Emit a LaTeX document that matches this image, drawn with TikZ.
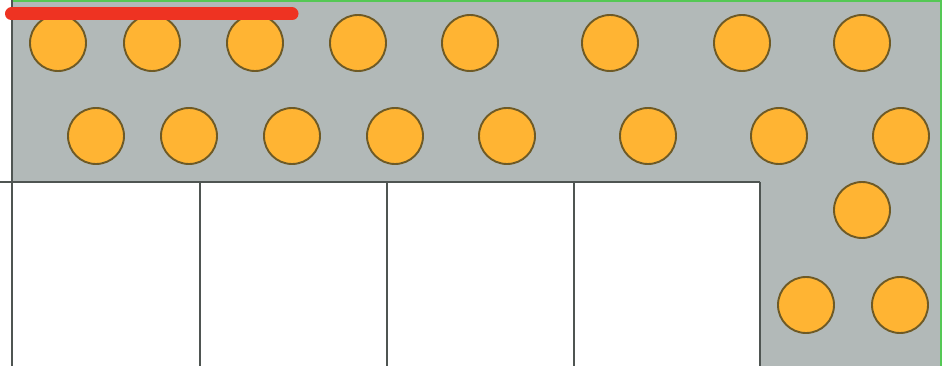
\documentclass[tikz,border=0pt]{standalone}
\begin{document}
\begin{tikzpicture}[x=1pt,y=-1pt,
  graybg/.style={fill=bgray},
  edge/.style={draw=lineg,line width=1.8pt},
  greenedge/.style={draw=greenb,line width=2.4pt},
  dot/.style={circle,draw=dotb,fill=dotf,line width=1.9pt,minimum size=56pt,inner sep=0pt},
  redbar/.style={draw=redb,line width=13pt,line cap=round}]
\definecolor{bgray}{HTML}{B2B9B8}
\definecolor{lineg}{HTML}{4F5552}
\definecolor{greenb}{HTML}{55C855}
\definecolor{dotf}{HTML}{FFB433}
\definecolor{dotb}{HTML}{6E5A26}
\definecolor{redb}{HTML}{EE3322}
\useasboundingbox (0,0) rectangle (945,366);
\fill[white] (0,0) rectangle (945,366);
\fill[graybg] (12,0) rectangle (940,366);
\fill[white] (12,182) rectangle (760,366);
% green frame
\draw[greenedge] (12,1) -- (941,1) -- (941,366);
% grid lines
\draw[edge] (12,0) -- (12,366);
\draw[edge] (0,182) -- (760,182);
\foreach \x in {200,387,574,760} \draw[edge] (\x,182) -- (\x,366);
% row 1
\node[dot] (c1) at (58,43) {};
\node[dot] (c2) at (152,43) {};
\node[dot] (c3) at (255,43) {};
\node[dot] (c4) at (358,43) {};
\node[dot] (c5) at (470,43) {};
\node[dot] (c6) at (610,43) {};
\node[dot] (c7) at (742,43) {};
\node[dot] (c8) at (862,43) {};
% row 2
\node[dot] (d1) at (96,136) {};
\node[dot] (d2) at (189,136) {};
\node[dot] (d3) at (292,136) {};
\node[dot] (d4) at (395,136) {};
\node[dot] (d5) at (507,136) {};
\node[dot] (d6) at (648,136) {};
\node[dot] (d7) at (779,136) {};
\node[dot] (d8) at (901,136) {};
% right column
\node[dot] (e1) at (862,210) {};
\node[dot] (e2) at (806,305) {};
\node[dot] (e3) at (900,305) {};
% red bar
\coordinate (r1) at (11.5,14);
\coordinate (r2) at (292,14);
\draw[redbar] (r1) -- (r2);
\end{tikzpicture}
\end{document}
